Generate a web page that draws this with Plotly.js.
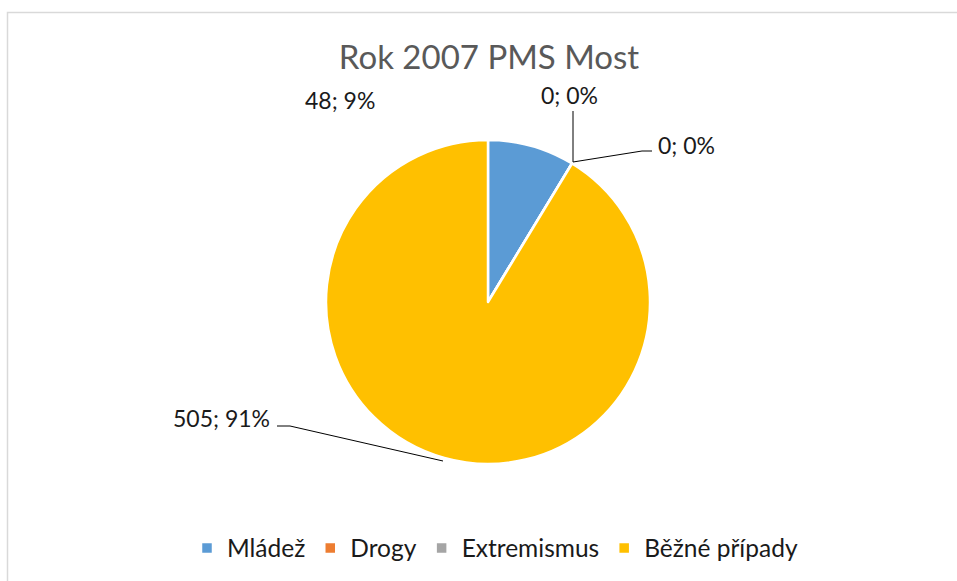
<!DOCTYPE html>
<html>
<head>
<meta charset="utf-8">
<script src="https://cdn.plot.ly/plotly-3.0.1.min.js"></script>
<style>
html,body{margin:0;padding:0;background:#fff;}
#chart{width:957px;height:581px;}
</style>
</head>
<body>
<div id="chart"></div>
<script>
const categories = ["Mládež", "Drogy", "Extremismus", "Běžné případy"];
const values = [48, 0, 0, 505];
const colors = ["#5B9BD5", "#ED7D31", "#A5A5A5", "#FFC000"];
const chartTitle = "Rok 2007 PMS Most";

const W = 957, H = 581;
const px = x => x / W;
const py = y => 1 - y / H;

const total = values.reduce((a, b) => a + b, 0);
const labelText = values.map(v => v + "; " + Math.round(v / total * 100) + "%");

// label placement (pixels) as in the reference
const labelPos = [
  {x: 340, y: 100},
  {x: 569, y: 95},
  {x: 686, y: 145},
  {x: 221, y: 418}
];

const FONT = "Lato, 'Open Sans', sans-serif";

const trace = {
  type: "pie",
  labels: categories,
  values: values,
  marker: {colors: colors, line: {color: "#ffffff", width: 2.5}},
  sort: false,
  direction: "clockwise",
  rotation: 0,
  textinfo: "none",
  hoverinfo: "skip",
  domain: {x: [px(488 - 162), px(488 + 162)], y: [py(302 + 162), py(302 - 162)]}
};

const annotations = labelText.map((t, i) => ({
  text: t, xref: "paper", yref: "paper",
  x: px(labelPos[i].x), y: py(labelPos[i].y),
  xanchor: "center", yanchor: "middle", showarrow: false,
  font: {family: FONT, size: 23, color: "#1a1a1a"}
}));

const lineStyle = {color: "#000000", width: 1};
const shapes = [
  {type: "rect", xref: "paper", yref: "paper", x0: px(7.5), x1: 1.2, y0: -0.2, y1: py(12.5),
   line: {color: "#d9d9d9", width: 1.5}, fillcolor: "rgba(0,0,0,0)", layer: "below"},
  {type: "path", xref: "paper", yref: "paper",
   path: `M${px(573)},${py(111)} L${px(573)},${py(162)}`, line: lineStyle},
  {type: "path", xref: "paper", yref: "paper",
   path: `M${px(573)},${py(162)} L${px(642)},${py(151)} L${px(652)},${py(151)}`, line: lineStyle},
  {type: "path", xref: "paper", yref: "paper",
   path: `M${px(277)},${py(426)} L${px(290)},${py(426)} L${px(443)},${py(461)}`, line: lineStyle}
];

const layout = {
  width: W, height: H,
  margin: {l: 0, r: 0, t: 0, b: 0},
  paper_bgcolor: "#ffffff",
  title: {
    text: chartTitle, x: px(489), xanchor: "center", y: py(57), yref: "container", yanchor: "middle",
    font: {family: FONT, size: 33, color: "#595959"}
  },
  showlegend: true,
  legend: {
    orientation: "h", x: px(495), xanchor: "center", y: py(548), yanchor: "middle",
    font: {family: FONT, size: 24.5, color: "#1a1a1a"},
    itemwidth: 30, traceorder: "normal"
  },
  annotations: annotations,
  shapes: shapes
};

Plotly.newPlot("chart", [trace], layout, {displayModeBar: false, staticPlot: true});
</script>
</body>
</html>
